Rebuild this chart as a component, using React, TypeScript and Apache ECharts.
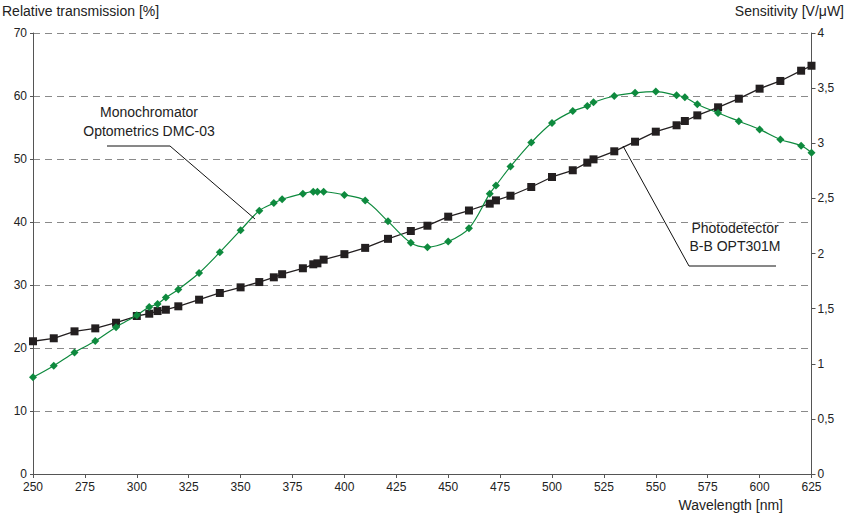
import React, { useEffect, useRef } from "react";
import * as echarts from "echarts";

const wavelengths = [250, 260, 270, 280, 290, 300, 306, 310, 314, 320, 330, 340, 350, 359, 366, 370, 380, 385, 387, 390, 400, 410, 421, 432, 440, 450, 460, 470, 473, 480, 490, 500, 510, 517, 520, 530, 540, 550, 560, 564, 570, 580, 590, 600, 610, 620, 625];

const transmission = [15.35, 17.2, 19.3, 21.1, 23.3, 25.2, 26.5, 27.0, 28.0, 29.3, 31.9, 35.2, 38.7, 41.8, 43.0, 43.6, 44.5, 44.8, 44.8, 44.8, 44.3, 43.4, 40.1, 36.7, 36.0, 36.9, 39.0, 44.5, 45.8, 48.8, 52.6, 55.7, 57.6, 58.4, 59.0, 60.0, 60.5, 60.7, 60.1, 59.8, 58.7, 57.3, 56.0, 54.7, 53.1, 52.1, 51.0];

const sensitivity = [1.204, 1.231, 1.294, 1.321, 1.372, 1.433, 1.454, 1.478, 1.49, 1.521, 1.581, 1.642, 1.693, 1.741, 1.784, 1.812, 1.866, 1.902, 1.911, 1.944, 1.994, 2.051, 2.133, 2.204, 2.252, 2.334, 2.39, 2.452, 2.482, 2.524, 2.603, 2.694, 2.755, 2.824, 2.854, 2.927, 3.014, 3.105, 3.163, 3.202, 3.253, 3.326, 3.404, 3.495, 3.565, 3.658, 3.703];

const leftTitle = "Relative transmission [%]";
const rightTitle = "Sensitivity [V/\u03bcW]";
const xTitle = "Wavelength [nm]";
const monoLabel = "Monochromator\nOptometrics DMC-03";
const photoLabel = "Photodetector\nB-B OPT301M";

const FONT = "'Liberation Sans', Arial, sans-serif";

export default function App() {
  const ref = useRef<HTMLDivElement>(null);
  useEffect(() => {
    if (!ref.current) return;
    const chart = echarts.init(ref.current, null, { renderer: "svg" });
    const axisColor = "#555";
    chart.setOption({
      animation: false,
      backgroundColor: "#fff",
      textStyle: { fontFamily: FONT },
      grid: { left: 33, right: 36.5, top: 33, bottom: 43, containLabel: false },
      xAxis: {
        type: "value",
        min: 250,
        max: 625,
        interval: 25,
        axisLine: { lineStyle: { color: axisColor, width: 1 } },
        axisTick: { show: true, length: 4, lineStyle: { color: axisColor } },
        axisLabel: { color: "#222", fontSize: 12, fontFamily: FONT, margin: 7 },
        splitLine: { show: false },
      },
      yAxis: [
        {
          type: "value",
          min: 0,
          max: 70,
          interval: 10,
          position: "left",
          axisLine: { show: true, lineStyle: { color: axisColor, width: 1 } },
          axisTick: { show: true, length: 3, lineStyle: { color: axisColor } },
          axisLabel: { color: "#222", fontSize: 12, fontFamily: FONT, margin: 6 },
          splitLine: { show: true, lineStyle: { color: "#8a8a8a", type: [7, 5], width: 1 } },
        },
        {
          type: "value",
          min: 0,
          max: 4,
          interval: 0.5,
          position: "right",
          axisLine: { show: true, lineStyle: { color: axisColor, width: 1 } },
          axisTick: { show: true, length: 4, lineStyle: { color: axisColor } },
          axisLabel: {
            color: "#222",
            fontSize: 12,
            fontFamily: FONT,
            margin: 6,
            formatter: (v: number) => String(v).replace(".", ","),
          },
          splitLine: { show: false },
        },
      ],
      series: [
        {
          name: "Photodetector B-B OPT301M",
          type: "line",
          yAxisIndex: 1,
          data: wavelengths.map((w, i) => [w, sensitivity[i]]),
          symbol: "rect",
          symbolSize: 8,
          itemStyle: { color: "#231f20" },
          lineStyle: { color: "#231f20", width: 1.3 },
          z: 2,
        },
        {
          name: "Monochromator Optometrics DMC-03",
          type: "line",
          yAxisIndex: 0,
          data: wavelengths.map((w, i) => [w, transmission[i]]),
          symbol: "diamond",
          symbolSize: 8,
          smooth: 0.35,
          itemStyle: { color: "#0e8a3e" },
          lineStyle: { color: "#0e8a3e", width: 1.2 },
          z: 3,
        },
      ],
      graphic: [
        {
          type: "text",
          left: 2,
          top: 4,
          style: { text: leftTitle, fontSize: 14, fontFamily: FONT, fill: "#222" },
        },
        {
          type: "text",
          right: 4,
          top: 4,
          style: { text: rightTitle, fontSize: 14, fontFamily: FONT, fill: "#222" },
        },
        {
          type: "text",
          right: 65,
          top: 498,
          style: { text: xTitle, fontSize: 14, fontFamily: FONT, fill: "#222" },
        },
        {
          type: "text",
          x: 149,
          y: 121,
          style: {
            text: monoLabel,
            fontSize: 14,
            fontFamily: FONT,
            fill: "#222",
            align: "center",
            verticalAlign: "middle",
            lineHeight: 19,
          },
        },
        {
          type: "polyline",
          shape: { points: [[107, 146], [170, 146], [255, 219]] },
          style: { stroke: "#111", lineWidth: 1, fill: "none" },
          z: 10,
        },
        {
          type: "text",
          x: 735,
          y: 237,
          style: {
            text: photoLabel,
            fontSize: 14,
            fontFamily: FONT,
            fill: "#222",
            align: "center",
            verticalAlign: "middle",
            lineHeight: 18,
          },
        },
        {
          type: "polyline",
          shape: { points: [[623, 146], [689, 266], [776, 266]] },
          style: { stroke: "#111", lineWidth: 1, fill: "none" },
          z: 10,
        },
      ],
    });
    return () => chart.dispose();
  }, []);
  return (
    <div
      ref={ref}
      style={{ position: "fixed", left: 0, top: 0, width: 848, height: 517 }}
    />
  );
}
